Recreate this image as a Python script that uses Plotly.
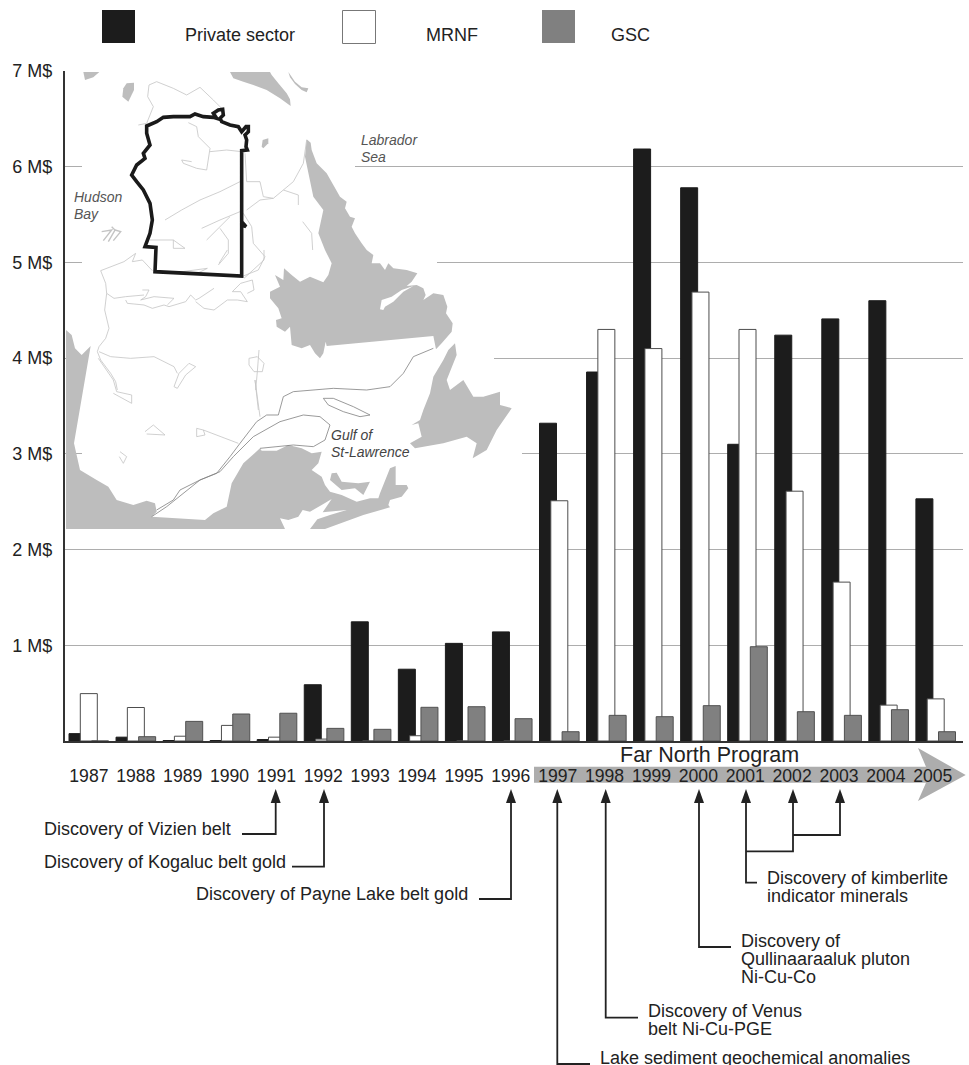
import plotly.graph_objects as go

W, H = 969, 1065

# ---------- data ----------
years = list(range(1987, 2006))
private_sector = [0.077, 0.04, 0.005, 0.005, 0.015, 0.588, 1.245, 0.75, 1.02, 1.14,
                  3.32, 3.855, 6.185, 5.78, 3.10, 4.24, 4.41, 4.60, 2.53]
mrnf = [0.495, 0.35, 0.05, 0.163, 0.04, 0.02, 0, 0.055, 0, 0,
        2.51, 4.30, 4.10, 4.69, 4.30, 2.61, 1.66, 0.375, 0.44]
gsc = [0, 0.045, 0.205, 0.282, 0.29, 0.132, 0.122, 0.352, 0.358, 0.233,
       0.097, 0.268, 0.254, 0.369, 0.985, 0.306, 0.268, 0.327, 0.097]
y_ticks = [1, 2, 3, 4, 5, 6, 7]
y_labels = ["1 M$", "2 M$", "3 M$", "4 M$", "5 M$", "6 M$", "7 M$"]

# ---------- layout helpers (pixel -> paper) ----------
PX0, PX1, PY0, PY1 = 65, 963, 71, 741
STEP = 47.05
C0 = 88.5
xr = [1987 + (PX0 - C0) / STEP, 1987 + (PX1 - C0) / STEP]
BW = 17 / STEP


def X(p):
    return p / W


def Y(p):
    return 1 - p / H


def path(pts, close=True):
    s = "M" + " L".join(f"{X(a):.5f} {Y(b):.5f}" for a, b in pts)
    return s + (" Z" if close else "")


def crop(ox, oy):
    return lambda pts: [(ox + a / 3, oy + b / 3) for a, b in pts]


z1 = crop(0, 0)
z2 = crop(0, 280)
zA = crop(260, 250)
zB = crop(64, 250)
zC = crop(230, 430)

shapes = []
annotations = []


def fill(pts, color="#bdbdbd", layer="above"):
    shapes.append(dict(type="path", xref="paper", yref="paper", path=path(pts), fillcolor=color,
                       line=dict(width=0), layer=layer))


def stroke(pts, color="#b0b0b0", width=0.8, close=False, layer="above"):
    shapes.append(dict(type="path", xref="paper", yref="paper", path=path(pts, close),
                       line=dict(color=color, width=width), layer=layer))


def rect(x0, y0, x1, y1, color, line=None, lw=0, layer="above"):
    shapes.append(dict(type="rect", xref="paper", yref="paper", x0=X(x0), x1=X(x1), y0=Y(y0), y1=Y(y1),
                       fillcolor=color, line=dict(color=line or color, width=lw), layer=layer))


def text(x, y, s, size=18, anchor="left", color="#222222", italic=False):
    annotations.append(dict(xref="paper", yref="paper", x=X(x - (2 if anchor == "left" else 0)), y=Y(y), text=s,
                            showarrow=False, xanchor=anchor, yanchor="middle", align="left",
                            font=dict(family="Liberation Sans", size=size, color=color,
                                      style="italic" if italic else "normal")))


# ---------- white-out of gridlines behind the map ----------
for gy, x_end in [(166.3, 355), (262, 437), (357.7, 494), (453.4, 522)]:
    rect(82, gy - 2, x_end, gy + 2, "#ffffff")

# ---------- map: grey land ----------
G = "#bdbdbd"
fill(z1([(250, 216), (298, 216), (280, 232), (255, 240)]), G)
fill(z1([(380, 250), (402, 248), (402, 270), (385, 305), (367, 290), (370, 265)]), G)
fill(z1([(690, 216), (700, 235), (730, 245), (760, 255), (800, 270), (840, 295), (872, 318), (870, 298),
         (860, 280), (835, 250), (815, 225), (810, 216)]), G)
fill(z1([(865, 216), (885, 245), (905, 262), (925, 265), (920, 277), (905, 270), (885, 252), (870, 232)]), G)
fill(z1([(788, 420), (805, 415), (805, 430), (790, 445), (785, 440)]), G)
for seg in [[(305, 695), (335, 690), (310, 722)], [(335, 680), (345, 690), (325, 725)],
            [(345, 690), (362, 695), (340, 722)]]:
    stroke(z1(seg), "#c4c4c4", 1.4)
# Labrador
fill(z1([(975, 750), (955, 700), (970, 630), (940, 590), (915, 470), (920, 418), (932, 428), (935, 450), (950, 490),
         (980, 520), (1000, 555), (1020, 590), (1040, 605), (1035, 625), (1050, 650), (1065, 655), (1055, 680),
         (1065, 700), (1085, 730), (1100, 750)]) +
     zA([(340, 15), (335, 40), (360, 40), (375, 60), (385, 40), (400, 55), (440, 60), (472, 70), (455, 95), (440, 108),
         (470, 105), (490, 115), (497, 135), (490, 150), (520, 130), (550, 135), (562, 170), (558, 190), (578, 220),
         (575, 245), (545, 280), (528, 298), (520, 258), (200, 288), (197, 275), (190, 310), (180, 325), (165, 310),
         (150, 285), (125, 295), (95, 285), (90, 230), (75, 245), (50, 230), (48, 210), (65, 205), (55, 175), (30, 145),
         (30, 125), (60, 110), (45, 75), (70, 90), (72, 55), (95, 75), (120, 95), (150, 80), (190, 97), (205, 75),
         (215, 40)]), G)
fill(zA([(360, 178), (365, 150), (395, 140), (425, 120), (460, 108), (430, 125), (400, 155), (375, 170), (370, 180)]),
     "#ffffff")
# Ontario / USA / New Brunswick / Nova Scotia
fill(z2([(198, 150), (215, 165), (225, 205), (245, 225), (272, 198), (222, 490), (240, 570), (290, 600),
         (325, 620), (350, 660), (400, 675), (440, 662), (465, 670), (470, 695), (455, 710), (615, 720),
         (640, 700), (680, 680), (695, 610), (730, 550), (780, 505)]) +
     zC([(95, 62), (140, 62), (175, 45), (215, 55), (245, 70), (275, 65), (265, 100), (245, 120), (275, 140), (285, 165),
         (300, 185), (335, 195), (380, 215), (420, 205), (445, 205), (450, 190), (480, 115), (497, 108), (497, 165),
         (530, 165), (535, 175), (515, 200), (480, 210), (475, 225), (480, 232), (400, 255), (285, 297), (240, 297),
         (262, 268), (300, 255), (350, 240), (278, 247), (305, 207), (275, 225), (240, 245), (218, 240), (205, 260),
         (175, 270), (150, 265), (165, 297)]) + [(66, 529)], G)
# PEI
fill(zC([(305, 130), (320, 128), (335, 155), (385, 160), (420, 155), (400, 195), (375, 175), (335, 180), (300, 150)]), G)
# Newfoundland
fill(z2([(1365, 190), (1345, 210), (1330, 240), (1300, 290), (1290, 340), (1270, 390), (1260, 420), (1235, 435),
         (1255, 430), (1265, 470), (1230, 490), (1245, 505), (1330, 490), (1400, 470), (1430, 490), (1418, 535),
         (1460, 510), (1490, 450), (1535, 385), (1520, 380), (1500, 375), (1500, 335), (1450, 350), (1420, 350),
         (1390, 300), (1350, 330), (1340, 300), (1370, 225)]), G)

# ---------- map: thin lines ----------
L = "#c4c4c4"
D = "#808080"
for seg in [
    [(415, 375), (440, 370), (460, 320), (443, 290), (447, 255), (470, 245), (520, 265), (560, 285), (600, 262),
     (640, 300), (665, 325)],
    [(565, 368), (590, 380), (595, 410), (630, 445), (620, 510), (590, 505), (550, 490), (545, 480), (575, 485)],
    [(630, 455), (680, 450), (725, 455)],
    [(495, 660), (545, 630), (600, 600), (660, 575), (720, 545)],
    [(605, 685), (660, 660), (720, 635)],
    [(620, 720), (690, 650)],
    [(660, 685), (685, 720), (685, 760), (655, 795)],
    [(450, 720), (520, 720), (555, 745), (520, 745), (520, 720)],
    [(735, 460), (740, 545), (780, 545), (790, 590), (820, 595), (850, 570), (880, 545), (910, 490), (920, 420)],
    [(740, 630), (780, 600), (820, 595)],
    [(850, 570), (895, 585), (895, 615)],
    [(908, 665), (935, 700), (938, 750)],
    [(730, 640), (755, 680), (760, 730), (795, 770), (775, 810), (730, 828)],
]:
    stroke(z1(seg), L, 0.8)
for seg in [
    [(215, 10), (180, 35), (110, 62), (125, 100), (128, 130), (122, 180), (135, 235), (125, 265), (105, 290), (100, 305),
     (110, 330), (140, 370), (155, 395), (160, 420)],
    [(128, 130), (150, 145), (185, 140), (240, 135)],
    [(185, 150), (190, 160), (240, 165), (265, 175), (300, 165), (315, 170), (365, 155), (380, 135), (395, 150), (405, 145),
     (450, 115)],
    [(235, 120), (255, 120), (245, 140), (230, 150), (270, 140), (330, 145), (310, 165)],
    [(395, 155), (420, 175), (450, 180), (490, 150), (520, 150), (550, 155), (530, 125), (505, 125), (530, 100), (565, 90),
     (570, 120), (550, 130)],
    [(105, 305), (140, 320), (200, 325), (270, 320), (300, 335), (330, 350), (340, 370)],
    [(330, 410), (345, 370), (375, 340), (395, 350), (365, 375), (340, 415), (330, 410)],
    [(555, 325), (580, 320), (600, 340), (595, 365), (570, 365), (555, 345), (555, 325)],
    [(585, 300), (580, 365), (575, 420)],
    [(215, 10), (205, 35), (235, 30), (265, 62)],
    [(320, 65), (355, 65), (430, 55), (400, 70)],
    [(465, 40), (490, 0)],
    [(540, 85), (600, 30), (600, 0)],
]:
    stroke(zB(seg), L, 0.8)
for seg in [
    [(295, 235), (340, 300), (350, 335), (395, 345), (395, 370), (340, 340)],
    [(775, 390), (765, 300), (780, 410)],
    [(590, 445), (610, 450), (615, 465), (590, 470), (590, 445)],
    [(610, 450), (715, 490)],
    [(435, 455), (460, 435), (495, 465), (440, 462)],
    [(360, 515), (380, 530), (370, 550), (358, 530)],
]:
    stroke(z2(seg), L, 0.8)
for seg in [
    [(470, 690), (520, 660), (540, 630), (600, 600), (650, 580), (690, 530), (720, 490), (770, 425), (800, 405),
     (835, 405), (850, 350), (880, 335), (1000, 325), (1100, 330), (1170, 320), (1210, 280), (1240, 230), (1300, 205)],
    [(455, 710), (500, 680), (600, 600), (660, 575), (700, 530), (760, 470), (840, 425), (910, 405), (960, 410),
     (990, 435), (975, 480), (940, 500), (880, 495), (780, 505)],
    [(970, 355), (1000, 355), (1060, 380), (1110, 405), (1080, 410), (1030, 395), (985, 375), (970, 355)],
]:
    stroke(z2(seg), D, 0.8)

# thick Nunavik boundary
stroke(z1([(440, 378), (470, 365), (490, 352), (520, 350), (570, 350), (585, 342), (610, 350), (640, 352), (650, 355),
           (640, 340), (655, 330), (668, 328), (670, 345), (660, 355), (665, 365), (690, 375), (715, 380), (725, 395),
           (738, 380), (745, 380), (745, 395), (735, 405), (740, 420), (738, 440), (742, 450), (725, 452), (725, 665),
           (738, 680), (725, 675), (725, 828), (465, 815), (468, 742), (435, 740), (450, 700), (457, 660), (450, 610),
           (430, 570), (410, 545), (395, 525), (410, 495), (435, 475), (430, 460), (450, 435), (440, 400), (440, 378)]),
       "#1a1a1a", 3.6, close=True)

text(74, 197, "Hudson", 14, color="#555555", italic=True)
text(74, 214, "Bay", 14, color="#555555", italic=True)
text(361, 140, "Labrador", 14, color="#555555", italic=True)
text(361, 157, "Sea", 14, color="#555555", italic=True)
text(331, 435, "Gulf of", 14, color="#444444", italic=True)
text(331, 452, "St-Lawrence", 14, color="#444444", italic=True)

# ---------- legend ----------
rect(102, 10, 135, 43, "#1c1c1c")
rect(342.5, 10.5, 375.5, 43.5, "#ffffff", "#777777", 1)
rect(542, 10, 575, 43, "#808080")
text(185, 35, "Private sector")
text(426, 35, "MRNF")
text(611, 35, "GSC")

# ---------- Far North arrow ----------
A = "#adadad"
fill([(534, 766.7), (926, 766.7), (918, 748), (965.7, 775), (918, 801), (926, 782.7), (534, 782.7)], A, layer="below")
text(709.5, 755, "Far North Program", 21.5, anchor="center")


# ---------- discovery connectors ----------
def arrow(x):
    fill([(x, 789), (x - 5, 803), (x + 5, 803)], "#222222")


def conn(pts):
    stroke(pts, "#222222", 1.8)


for ax, pts in [
    (275.7, [(242, 834), (275.7, 834), (275.7, 800)]),
    (324, [(292, 866.7), (324, 866.7), (324, 800)]),
    (511, [(479, 899), (511, 899), (511, 800)]),
    (557.3, [(590, 1064), (557.3, 1064), (557.3, 800)]),
    (605.7, [(638, 1017.7), (605.7, 1017.7), (605.7, 800)]),
    (699, [(731, 947), (699, 947), (699, 800)]),
    (746, [(757, 882.7), (746, 882.7), (746, 800)]),
    (793, [(746, 851.3), (793, 851.3), (793, 800)]),
    (840, [(793, 835), (840, 835), (840, 800)]),
]:
    conn(pts)
    arrow(ax)

text(44, 829, "Discovery of Vizien belt")
text(44, 861.7, "Discovery of Kogaluc belt gold")
text(196, 893.5, "Discovery of Payne Lake belt gold")
text(600, 1058, "Lake sediment geochemical anomalies")
text(648, 1011, "Discovery of Venus")
text(648, 1029, "belt Ni-Cu-PGE")
text(741, 940.7, "Discovery of")
text(741, 958.7, "Qullinaaraaluk pluton")
text(741, 977, "Ni-Cu-Co")
text(767, 878, "Discovery of kimberlite")
text(767, 896, "indicator minerals")

# ---------- bars ----------
fig = go.Figure()
for name, vals, col, edge, off in [
    ("Private sector", private_sector, "#1c1c1c", "#1c1c1c", (69 - C0) / STEP),
    ("MRNF", mrnf, "#ffffff", "#4d4d4d", (80.3 - C0) / STEP),
    ("GSC", gsc, "#808080", "#505050", (91.6 - C0) / STEP),
]:
    fig.add_bar(x=years, y=vals, name=name, width=BW, offset=off,
                marker=dict(color=col, line=dict(color=edge, width=1)))

label_pos = [y + ((88.9 + 46.88 * (y - 1987)) - (C0 + STEP * (y - 1987))) / STEP for y in years]

fig.update_layout(
    width=W, height=H, autosize=False, barmode="overlay", showlegend=False,
    margin=dict(l=0, r=0, t=0, b=0, pad=0, autoexpand=False),
    paper_bgcolor="white", plot_bgcolor="white",
    font=dict(family="Liberation Sans", color="#222222"),
    shapes=shapes, annotations=annotations,
    xaxis=dict(domain=[X(PX0), X(PX1)], range=xr, tickmode="array", tickvals=label_pos, ticktext=[str(y) for y in years],
               ticks="", showgrid=False, zeroline=False, showline=True, linecolor="#333333", linewidth=2,
               tickfont=dict(size=17.6, color="#222222"), ticklabelstandoff=18, tickangle=0, fixedrange=True),
    yaxis=dict(domain=[Y(PY1), Y(PY0)], range=[0, 7], tickmode="array", tickvals=y_ticks, ticktext=y_labels,
               ticks="", showgrid=True, gridcolor="#adadad", gridwidth=1, zeroline=False, showline=True,
               linecolor="#333333", linewidth=2, tickfont=dict(size=18, color="#222222"), ticklabelstandoff=7,
               fixedrange=True),
)

fig.write_html("out.html", config=dict(displayModeBar=False),
               post_script="document.body.style.margin='0';")
